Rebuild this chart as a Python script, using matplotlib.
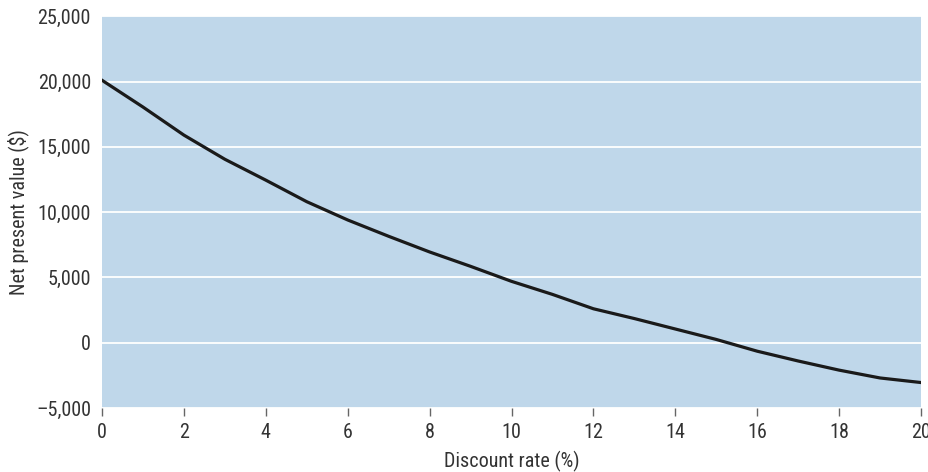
import matplotlib
matplotlib.use("Agg")
import matplotlib.pyplot as plt
from matplotlib.ticker import FuncFormatter
from matplotlib import font_manager

rates = [0, 1, 2, 3, 4, 5, 6, 7, 8, 9, 10, 11, 12, 13, 14, 15, 16, 17, 18, 19, 20]
npv = [20100, 18050, 15900, 14050, 12450, 10800, 9400, 8150, 6950, 5850, 4700,
       3700, 2600, 1850, 1050, 250, -650, -1400, -2100, -2700, -3050]
xticks = [0, 2, 4, 6, 8, 10, 12, 14, 16, 18, 20]
yticks = [-5000, 0, 5000, 10000, 15000, 20000, 25000]

names = {f.name for f in font_manager.fontManager.ttflist}
fam = [n for n in ["Roboto Condensed", "Liberation Sans Narrow", "Roboto", "DejaVu Sans"] if n in names]
plt.rcParams['font.family'] = fam
stretch = 'condensed'

fig = plt.figure(figsize=(9.29, 4.72), dpi=100)
ax = fig.add_axes([0.1098, 0.1356, 0.9914 - 0.1098, 0.9655 - 0.1356])
ax.set_facecolor('#bfd7ea')
ax.plot(rates, npv, color='#1a1a1a', lw=2.3, solid_joinstyle='round', zorder=3)
ax.set_xlim(0, 20)
ax.set_ylim(-5000, 25000)
ax.set_xticks(xticks)
ax.set_yticks(yticks)
ax.yaxis.set_major_formatter(FuncFormatter(lambda v, p: f"{int(v):,}".replace('-', '\u2013')))
ax.grid(axis='y', color='white', lw=1.3)
ax.set_axisbelow(True)
for s in ax.spines.values():
    s.set_visible(False)
ax.tick_params(axis='y', length=0, pad=8, labelsize=14.5, labelcolor='#333333')
ax.tick_params(axis='x', length=6, width=1, color='#666666', pad=5, labelsize=14.5, labelcolor='#333333')
for lab in ax.get_xticklabels() + ax.get_yticklabels():
    lab.set_fontstretch(stretch)
ax.set_xlabel('Discount rate (%)', fontsize=14.5, color='#333333', labelpad=6, fontstretch=stretch)
ax.set_ylabel('Net present value ($)', fontsize=14.5, color='#333333', labelpad=5, fontstretch=stretch)
fig.savefig('out.png', dpi=100)
